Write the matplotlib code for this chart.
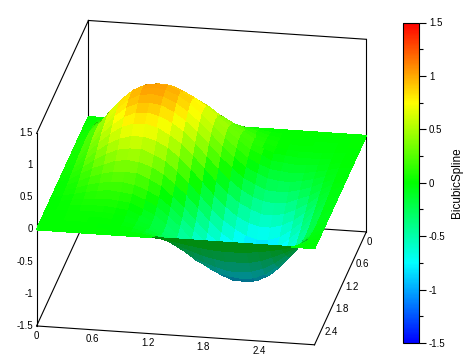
import numpy as np
import matplotlib
matplotlib.use('Agg')
import matplotlib.pyplot as plt
from matplotlib.colors import LinearSegmentedColormap, Normalize
from matplotlib.cm import ScalarMappable
from mpl_toolkits.mplot3d import proj3d

plt.rcParams['font.family'] = ['Liberation Sans', 'DejaVu Sans']

x_grid = [0, .125, .25, .375, .5, .625, .75, .875, 1, 1.125, 1.25, 1.375, 1.5,
          1.625, 1.75, 1.875, 2, 2.125, 2.25, 2.375, 2.5, 2.625, 2.75, 2.875, 3]
y_grid = [0, .125, .25, .375, .5, .625, .75, .875, 1, 1.125, 1.25, 1.375, 1.5,
          1.625, 1.75, 1.875, 2, 2.125, 2.25, 2.375, 2.5, 2.625, 2.75, 2.875, 3]
# one row per y value
z_rows = [
    [0, 0, 0, 0, 0, 0, 0, 0, 0, 0, 0, 0, 0, 0, 0, 0, 0, 0, 0, 0, 0, 0, 0, 0, 0],
    [0, .02, .07, .11, .15, .18, .20, .21, .21, .20, .18, .15, .12, .09, .07, .04, .02, .01, 0, 0, 0, 0, 0, 0, 0],
    [0, .05, .14, .24, .32, .39, .43, .44, .44, .41, .37, .31, .25, .19, .14, .09, .04, .01, .01, 0, -.01, -.01, -.01, 0, 0],
    [0, .08, .21, .35, .48, .58, .64, .66, .66, .61, .55, .48, .38, .28, .19, .11, .06, .02, 0, -.02, -.01, -.02, -.01, 0, 0],
    [0, .10, .26, .45, .61, .74, .82, .84, .82, .77, .69, .60, .47, .34, .24, .13, .07, .01, -.01, -.03, -.03, -.03, -.02, -.01, 0],
    [0, .11, .30, .52, .70, .85, .94, .96, .95, .88, .79, .67, .53, .38, .25, .13, .06, -.01, -.03, -.05, -.05, -.05, -.03, -.01, 0],
    [0, .12, .33, .55, .75, .91, 1.00, 1.03, 1.01, .94, .84, .70, .54, .39, .24, .11, .03, -.05, -.07, -.09, -.08, -.07, -.04, -.01, 0],
    [0, .12, .33, .56, .76, .92, 1.01, 1.04, 1.01, .94, .83, .68, .52, .34, .19, .05, -.04, -.11, -.13, -.15, -.13, -.10, -.06, -.02, 0],
    [0, .12, .32, .55, .74, .90, .99, 1.01, .98, .90, .78, .63, .46, .28, .12, -.02, -.11, -.18, -.21, -.21, -.18, -.14, -.08, -.03, 0],
    [0, .11, .31, .52, .71, .85, .93, .95, .92, .83, .71, .56, .38, .19, .03, -.12, -.21, -.29, -.30, -.29, -.25, -.19, -.11, -.04, 0],
    [0, .10, .28, .48, .65, .78, .86, .87, .82, .74, .62, .45, .26, .07, -.09, -.23, -.33, -.39, -.41, -.39, -.32, -.25, -.15, -.05, 0],
    [0, .09, .25, .43, .58, .70, .76, .77, .72, .62, .50, .33, .14, -.05, -.22, -.36, -.45, -.52, -.52, -.49, -.41, -.31, -.18, -.07, 0],
    [0, .08, .22, .37, .50, .59, .64, .64, .59, .50, .36, .19, 0, -.19, -.36, -.50, -.59, -.64, -.64, -.59, -.50, -.37, -.22, -.08, 0],
    [0, .07, .18, .31, .41, .49, .52, .52, .45, .36, .22, .05, -.14, -.33, -.50, -.62, -.72, -.77, -.76, -.70, -.58, -.43, -.25, -.09, 0],
    [0, .05, .15, .25, .32, .39, .41, .39, .33, .23, .09, -.07, -.26, -.45, -.62, -.74, -.82, -.87, -.86, -.78, -.65, -.48, -.28, -.10, 0],
    [0, .04, .11, .19, .25, .29, .30, .29, .21, .12, -.03, -.19, -.38, -.56, -.71, -.83, -.92, -.95, -.93, -.85, -.71, -.52, -.31, -.11, 0],
    [0, .03, .08, .14, .18, .21, .21, .18, .11, .02, -.12, -.28, -.46, -.63, -.78, -.90, -.98, -1.01, -.99, -.90, -.74, -.55, -.32, -.12, 0],
    [0, .02, .06, .10, .13, .15, .13, .11, .04, -.05, -.19, -.34, -.52, -.68, -.83, -.94, -1.01, -1.04, -1.01, -.92, -.76, -.56, -.33, -.12, 0],
    [0, .01, .04, .07, .08, .09, .07, .05, -.03, -.11, -.24, -.39, -.54, -.70, -.84, -.94, -1.01, -1.03, -1.00, -.91, -.75, -.55, -.33, -.12, 0],
    [0, .01, .03, .05, .05, .05, .03, .01, -.06, -.13, -.25, -.38, -.53, -.67, -.79, -.88, -.95, -.96, -.94, -.85, -.70, -.52, -.30, -.11, 0],
    [0, .01, .02, .03, .03, .03, .01, -.01, -.07, -.13, -.24, -.34, -.47, -.60, -.69, -.77, -.82, -.84, -.82, -.74, -.61, -.45, -.26, -.10, 0],
    [0, 0, .01, .02, .01, .02, 0, -.02, -.06, -.11, -.19, -.28, -.38, -.48, -.55, -.61, -.66, -.66, -.64, -.58, -.48, -.35, -.21, -.08, 0],
    [0, 0, .01, .01, .01, 0, -.01, -.01, -.04, -.09, -.14, -.19, -.25, -.31, -.37, -.41, -.44, -.44, -.43, -.39, -.32, -.24, -.14, -.05, 0],
    [0, 0, 0, 0, 0, 0, 0, -.01, -.02, -.04, -.07, -.09, -.12, -.15, -.18, -.20, -.21, -.21, -.20, -.18, -.15, -.11, -.07, -.02, 0],
    [0, 0, 0, 0, 0, 0, 0, 0, 0, 0, 0, 0, 0, 0, 0, 0, 0, 0, 0, 0, 0, 0, 0, 0, 0],
]
x_ticks = [0, 0.6, 1.2, 1.8, 2.4]
y_ticks = [0, 0.6, 1.2, 1.8, 2.4]
z_ticks = [-1.5, -1, -0.5, 0, 0.5, 1, 1.5]
z_labels = ['-1.5', '-1', '-0.5', '0', '0.5', '1', '1.5']
x_labels = ['0', '0.6', '1.2', '1.8', '2.4']
y_labels = ['0', '0.6', '1.2', '1.8', '2.4']
cbar_label = 'BicubicSpline'

xmin, xmax = 0, 3
ymin, ymax = 0, 3
zmin, zmax = -1.5, 1.5
elev, azim = 22.6, -80
box = (280, 296, 207)

W, H = 471, 362
fig = plt.figure(figsize=(W / 100, H / 100), dpi=100)

cmap = LinearSegmentedColormap.from_list('spline', ['#0000ff', '#00ffff', '#00ff00', '#ffff00', '#ff0000'], N=256)
norm = Normalize(zmin, zmax)

side = 360
cx, cy = 196.6, 187.5
ax = fig.add_axes([(cx - side / 2) / W, 1 - (cy + side / 2) / H, side / W, side / H],
                  projection='3d', computed_zorder=False)
ax.set_proj_type('ortho')
ax.view_init(elev=elev, azim=azim)
ax.set_box_aspect(box, zoom=1.242)
ax.set_xlim(xmin, xmax, view_margin=0)
ax.set_ylim(ymax, ymin, view_margin=0)
ax.set_zlim(zmin, zmax, view_margin=0)
ax.set_axis_off()

X, Y = np.meshgrid(x_grid, y_grid)
Z = np.array(z_rows, dtype=float)

# face colours: colormap on the mean height, darkened at grazing angles and on the underside
z_face = (Z[:-1, :-1] + Z[1:, :-1] + Z[:-1, 1:] + Z[1:, 1:]) / 4
dx = box[0] / (len(x_grid) - 1)
dy = box[1] / (len(y_grid) - 1)
scale_z = box[2] / (zmax - zmin)
dzdx = (Z[:-1, 1:] + Z[1:, 1:] - Z[:-1, :-1] - Z[1:, :-1]) / 2 * scale_z / dx
dzdy = -(Z[1:, :-1] + Z[1:, 1:] - Z[:-1, :-1] - Z[:-1, 1:]) / 2 * scale_z / dy
el, az = np.radians(elev), np.radians(azim)
view = np.array([np.cos(el) * np.cos(az), np.cos(el) * np.sin(az), np.sin(el)])
n_len = np.sqrt(dzdx ** 2 + dzdy ** 2 + 1)
dot = (-dzdx * view[0] - dzdy * view[1] + view[2]) / n_len
light = np.clip(0.65 + 6 * dot, 0, 1)
light[dot < 0] = 0.55
colors = cmap(norm(z_face))
colors[..., :3] *= light[..., None]


def edge(a, b):
    ax.plot(*zip(a, b), color='black', lw=0.8, zorder=1)


# box behind the surface
edge((xmin, ymin, zmin), (xmax, ymin, zmin))
edge((xmin, ymin, zmin), (xmin, ymax, zmin))
edge((xmin, ymax, zmin), (xmax, ymax, zmin))
edge((xmax, ymin, zmin), (xmax, ymax, zmin))
edge((xmin, ymin, zmax), (xmax, ymin, zmax))
edge((xmin, ymin, zmax), (xmin, ymax, zmax))
edge((xmin, ymin, zmin), (xmin, ymin, zmax))
edge((xmax, ymin, zmin), (xmax, ymin, zmax))
edge((xmin, ymax, zmin), (xmin, ymax, zmax))

ax.plot_surface(X, Y, Z, facecolors=colors, rstride=1, cstride=1, shade=False,
                linewidth=0.4, antialiased=False, zorder=2)


def label(x, y, z, s, ha):
    xp, yp, _ = proj3d.proj_transform(x, y, z, ax.get_proj())
    ax.text2D(xp, yp, s, transform=ax.transData, fontsize=7, ha=ha, va='center', zorder=3)


for v, s in zip(x_ticks, x_labels):
    label(v, ymax, zmin - 0.15, s, 'center')
for v, s in zip(y_ticks, y_labels):
    label(xmax, v, zmin - 0.15, s, 'left')
for v, s in zip(z_ticks, z_labels):
    label(xmin - 0.04, ymax, v, s, 'right')

cax = fig.add_axes([402.7 / W, 1 - 343 / H, 16.6 / W, 320.5 / H])
cb = fig.colorbar(ScalarMappable(norm=norm, cmap=cmap), cax=cax)
cb.set_ticks(z_ticks, labels=z_labels)
cb.set_ticks(np.arange(-1.25, 1.5, 0.5), minor=True)
cb.ax.tick_params(which='major', length=5, width=0.8, labelsize=7, pad=2)
cb.ax.tick_params(which='minor', length=3, width=0.8)
cb.outline.set_linewidth(0.8)
cb.set_label(cbar_label, fontsize=8.5, labelpad=4)

fig.savefig('out.png', dpi=100)
